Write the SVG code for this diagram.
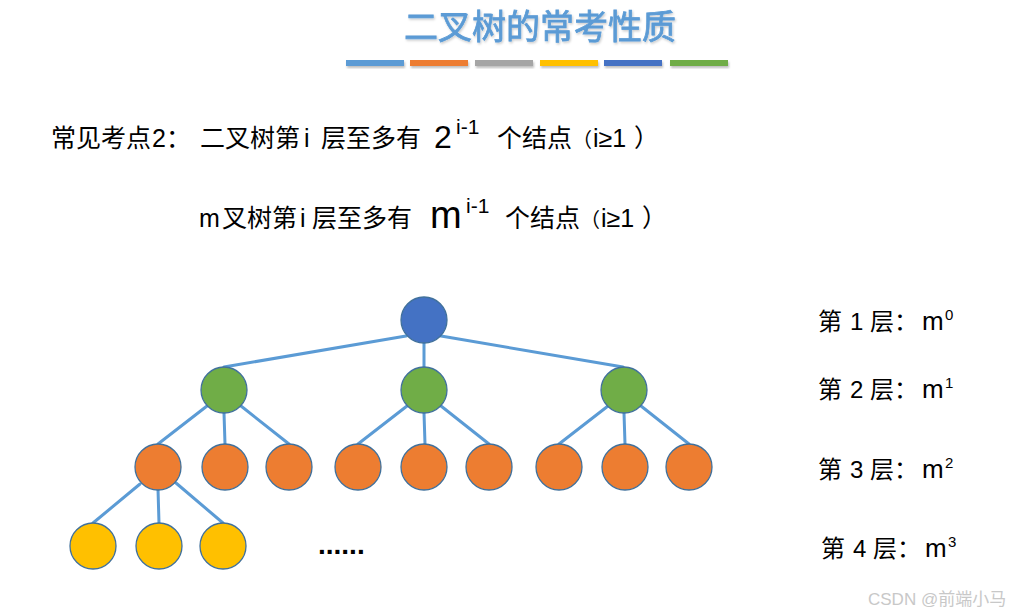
<svg xmlns="http://www.w3.org/2000/svg" width="1023" height="616" viewBox="0 0 1023 616">
<defs>
<filter id="sh" x="-10%" y="-30%" width="120%" height="180%">
<feDropShadow dx="1" dy="2" stdDeviation="1.2" flood-color="#000" flood-opacity="0.25"/>
</filter>
<filter id="tsh" x="-5%" y="-20%" width="110%" height="150%">
<feDropShadow dx="1" dy="1.5" stdDeviation="1" flood-color="#000" flood-opacity="0.2"/>
</filter>
</defs>
<style>
.t{font-family:"Liberation Sans","Noto Sans CJK SC",sans-serif;fill:#000}
.c{font-family:"Noto Sans CJK SC",sans-serif}
.e{stroke:#5B9BD5;stroke-width:3;stroke-linecap:round;fill:none}
.n{stroke:#41719C;stroke-width:1.3}
.root{fill:#4472C4}
.g{fill:#70AD47}
.o{fill:#ED7D31}
.y{fill:#FFC000}
</style>
<rect width="1023" height="616" fill="#fff"/>

<g id="title">
<text x="540" y="39" text-anchor="middle" font-family="'Noto Sans CJK SC',sans-serif" font-size="34" font-weight="normal" fill="#5B9BD5" stroke="#5B9BD5" stroke-width="0.8" filter="url(#tsh)">二叉树的常考性质</text>
<g filter="url(#sh)">
<rect x="346" y="60" width="58" height="6" fill="#5B9BD5"/>
<rect x="410" y="60" width="58" height="6" fill="#ED7D31"/>
<rect x="475" y="60" width="58" height="6" fill="#A5A5A5"/>
<rect x="540" y="60" width="58" height="6" fill="#FFC000"/>
<rect x="604" y="60" width="58" height="6" fill="#4472C4"/>
<rect x="670" y="60" width="58" height="6" fill="#70AD47"/>
</g>
</g>

<g id="line1">
<text class="t" font-size="25" y="147"><tspan x="51" class="c">常见考点</tspan><tspan x="152">2</tspan><tspan x="166" class="c">：</tspan><tspan x="200" class="c">二叉树第</tspan><tspan x="304">i</tspan><tspan x="321" class="c">层至多有</tspan><tspan x="434" y="148" font-size="32">2</tspan><tspan x="456" y="134" font-size="21">i-1</tspan><tspan x="497" y="147" class="c">个结点</tspan><tspan x="572" class="c" font-size="20">（</tspan><tspan x="593">i≥1</tspan><tspan x="634" class="c">）</tspan></text>
</g>

<g id="line2">
<text class="t" font-size="25" y="227"><tspan x="199">m</tspan><tspan x="222" class="c">叉树第</tspan><tspan x="300">i</tspan><tspan x="312" class="c">层至多有</tspan><tspan x="430" y="228" font-size="38">m</tspan><tspan x="466" y="213" font-size="21">i-1</tspan><tspan x="505" y="227" class="c">个结点</tspan><tspan x="580" class="c" font-size="20">（</tspan><tspan x="601">i≥1</tspan><tspan x="642" class="c">）</tspan></text>
</g>

<g id="connectors">
<line class="e" x1="406" y1="336" x2="224" y2="367"/>
<line class="e" x1="424" y1="343" x2="424" y2="367"/>
<line class="e" x1="441" y1="336" x2="623" y2="367"/>
<line class="e" x1="207" y1="406" x2="158" y2="444"/>
<line class="e" x1="224" y1="413" x2="225" y2="444"/>
<line class="e" x1="241" y1="406" x2="289" y2="444"/>
<line class="e" x1="407" y1="406" x2="358" y2="444"/>
<line class="e" x1="424" y1="413" x2="425" y2="444"/>
<line class="e" x1="441" y1="406" x2="489" y2="444"/>
<line class="e" x1="608" y1="406" x2="559" y2="444"/>
<line class="e" x1="624" y1="413" x2="625" y2="444"/>
<line class="e" x1="641" y1="406" x2="689" y2="444"/>
<line class="e" x1="140" y1="484" x2="93" y2="523"/>
<line class="e" x1="158" y1="489" x2="159" y2="523"/>
<line class="e" x1="176" y1="483" x2="223" y2="523"/>
</g>

<g id="n-root"><circle class="n root" cx="424" cy="320" r="23"/></g>
<g id="n-g1"><circle class="n g" cx="224" cy="390" r="23"/></g>
<g id="n-g2"><circle class="n g" cx="424" cy="390" r="23"/></g>
<g id="n-g3"><circle class="n g" cx="624" cy="390" r="23"/></g>
<g id="n-o1"><circle class="n o" cx="158" cy="467" r="23"/></g>
<g id="n-o2"><circle class="n o" cx="225" cy="467" r="23"/></g>
<g id="n-o3"><circle class="n o" cx="289" cy="467" r="23"/></g>
<g id="n-o4"><circle class="n o" cx="358" cy="467" r="23"/></g>
<g id="n-o5"><circle class="n o" cx="424" cy="467" r="23"/></g>
<g id="n-o6"><circle class="n o" cx="489" cy="467" r="23"/></g>
<g id="n-o7"><circle class="n o" cx="559" cy="467" r="23"/></g>
<g id="n-o8"><circle class="n o" cx="625" cy="467" r="23"/></g>
<g id="n-o9"><circle class="n o" cx="689" cy="467" r="23"/></g>
<g id="n-y1"><circle class="n y" cx="93" cy="546" r="23"/></g>
<g id="n-y2"><circle class="n y" cx="159" cy="546" r="23"/></g>
<g id="n-y3"><circle class="n y" cx="223" cy="546" r="23"/></g>

<g id="dots"><text x="318" y="554" class="t" font-size="28" font-weight="bold">......</text></g>

<g id="levels" class="t" font-size="24">
<text x="818" y="330"><tspan class="c">第</tspan><tspan x="850">1</tspan><tspan x="870" class="c">层：</tspan><tspan x="922" font-size="26">m</tspan><tspan x="945" y="320" font-size="15">0</tspan></text>
<text x="818" y="398"><tspan class="c">第</tspan><tspan x="850">2</tspan><tspan x="870" class="c">层：</tspan><tspan x="922" font-size="26">m</tspan><tspan x="945" y="388" font-size="15">1</tspan></text>
<text x="818" y="478"><tspan class="c">第</tspan><tspan x="850">3</tspan><tspan x="870" class="c">层：</tspan><tspan x="922" font-size="26">m</tspan><tspan x="945" y="468" font-size="15">2</tspan></text>
<text x="821" y="557"><tspan class="c">第</tspan><tspan x="853">4</tspan><tspan x="873" class="c">层：</tspan><tspan x="925" font-size="26">m</tspan><tspan x="948" y="547" font-size="15">3</tspan></text>
</g>

<g id="watermark"><text x="868" y="605" font-family="'Liberation Sans','Noto Sans CJK SC',sans-serif" font-size="17" fill="#c8c8c8">CSDN @前端小马</text></g>
</svg>
